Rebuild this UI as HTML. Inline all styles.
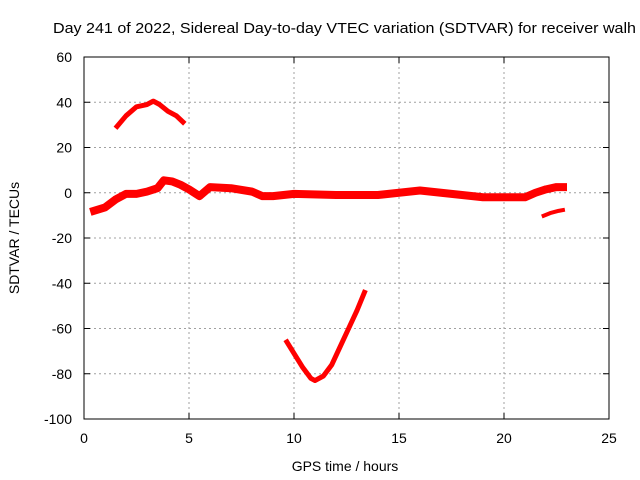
<!DOCTYPE html>
<html><head><meta charset="utf-8"><style>
body{margin:0;background:#fff;}
svg{display:block;font-family:"Liberation Sans",sans-serif;}
</style></head><body>
<svg id="chart" width="640" height="480" viewBox="0 0 640 480" xmlns="http://www.w3.org/2000/svg">
<text x="53" y="33" font-size="15" textLength="583" lengthAdjust="spacingAndGlyphs" fill="#000">Day 241 of 2022, Sidereal Day-to-day VTEC variation (SDTVAR) for receiver walh</text>
<g id="grid"></g>
<g id="axes"></g>
<g id="series"></g>
<text x="345" y="471" font-size="14" text-anchor="middle">GPS time / hours</text>
<text transform="translate(19,238) rotate(-90)" font-size="14" text-anchor="middle">SDTVAR / TECUs</text>
</svg>
<script>
const xTicks=[0,5,10,15,20,25];
const yTicks=[60,40,20,0,-20,-40,-60,-80,-100];
const arcT=[1.5,2,2.5,3,3.3,3.6,4,4.4,4.8];
const arcV=[28.5,34,38,39,40.5,39,36,34,30.5];
const mainT=[0.3,1,1.5,2,2.5,3,3.5,3.8,4.2,4.6,5,5.5,6,7,8,8.5,9,9.5,10,12,14,15,16,17,18,19,20,21,21.5,22,22.5,23];
const mainV=[-8.5,-6.5,-3,-0.5,-0.5,0.5,2,5.5,5,3.5,1.5,-1.5,2.5,2,0.5,-1.5,-1.5,-1,-0.5,-1,-1,0,1,0,-1,-2,-2,-2,0,1.5,2.5,2.5];
const dipT=[9.6,10,10.4,10.8,11,11.4,11.8,12.2,12.6,13,13.4];
const dipV=[-65,-71,-77,-82,-83,-81,-76,-68,-60,-52,-43];
const endT=[21.8,22.2,22.6,22.9];
const endV=[-10.5,-9,-8,-7.5];
const L=84,R=609,T=57,B=419;
function xs(t){return L+(t-0)/(25-0)*(R-L);}
function ys(v){return B-(v+100)/(160)*(B-T);}
const NS="http://www.w3.org/2000/svg";
function mk(tag,attrs,parent){const e=document.createElementNS(NS,tag);for(const k in attrs)e.setAttribute(k,attrs[k]);parent.appendChild(e);return e;}
const grid=document.getElementById('grid'),axes=document.getElementById('axes'),series=document.getElementById('series');
xTicks.forEach(t=>{
  const x=xs(t);
  if(t>0&&t<25){const g=mk('line',{x1:x,x2:x,y1:T,y2:B,stroke:'#a0a0a0','stroke-dasharray':'2,3'},grid);
  
  }
  const tk=mk('line',{x1:x,x2:x,y1:B,y2:B-6,stroke:'#000'},axes);
  
  
  const tk2=mk('line',{x1:x,x2:x,y1:T,y2:T+6,stroke:'#000'},axes);
  
  
  const lb=mk('text',{x:x,y:B+24,'font-size':14,'text-anchor':'middle'},axes);lb.textContent=t;
  
  
});
yTicks.forEach(v=>{
  const y=ys(v);
  if(v>-100&&v<60){const g=mk('line',{x1:L,x2:R,y1:y,y2:y,stroke:'#a0a0a0','stroke-dasharray':'2,3'},grid);
  
  }
  const tk=mk('line',{x1:L,x2:L+6,y1:y,y2:y,stroke:'#000'},axes);
  
  
  const tk2=mk('line',{x1:R,x2:R-6,y1:y,y2:y,stroke:'#000'},axes);
  
  
  const lb=mk('text',{x:L-12,y:y+5,'font-size':14,'text-anchor':'end'},axes);lb.textContent=v;
  
  
});
const box=mk('rect',{x:L,y:T,width:R-L,height:B-T,fill:'none',stroke:'#000'},axes);


function draw(ts,vs,name,w){
  const pts=ts.map((t,i)=>xs(t)+','+ys(vs[i])).join(' ');
  const p=mk('polyline',{points:pts,fill:'none',stroke:'#ff0000','stroke-width':w,'stroke-linejoin':'round','stroke-linecap':'butt'},series);
  
  
}
draw(arcT,arcV,'series-upper-arc',5);
draw(mainT,mainV,'series-main',8);
draw(dipT,dipV,'series-dip',5);
draw(endT,endV,'series-end',4);
</script>
</body></html>
